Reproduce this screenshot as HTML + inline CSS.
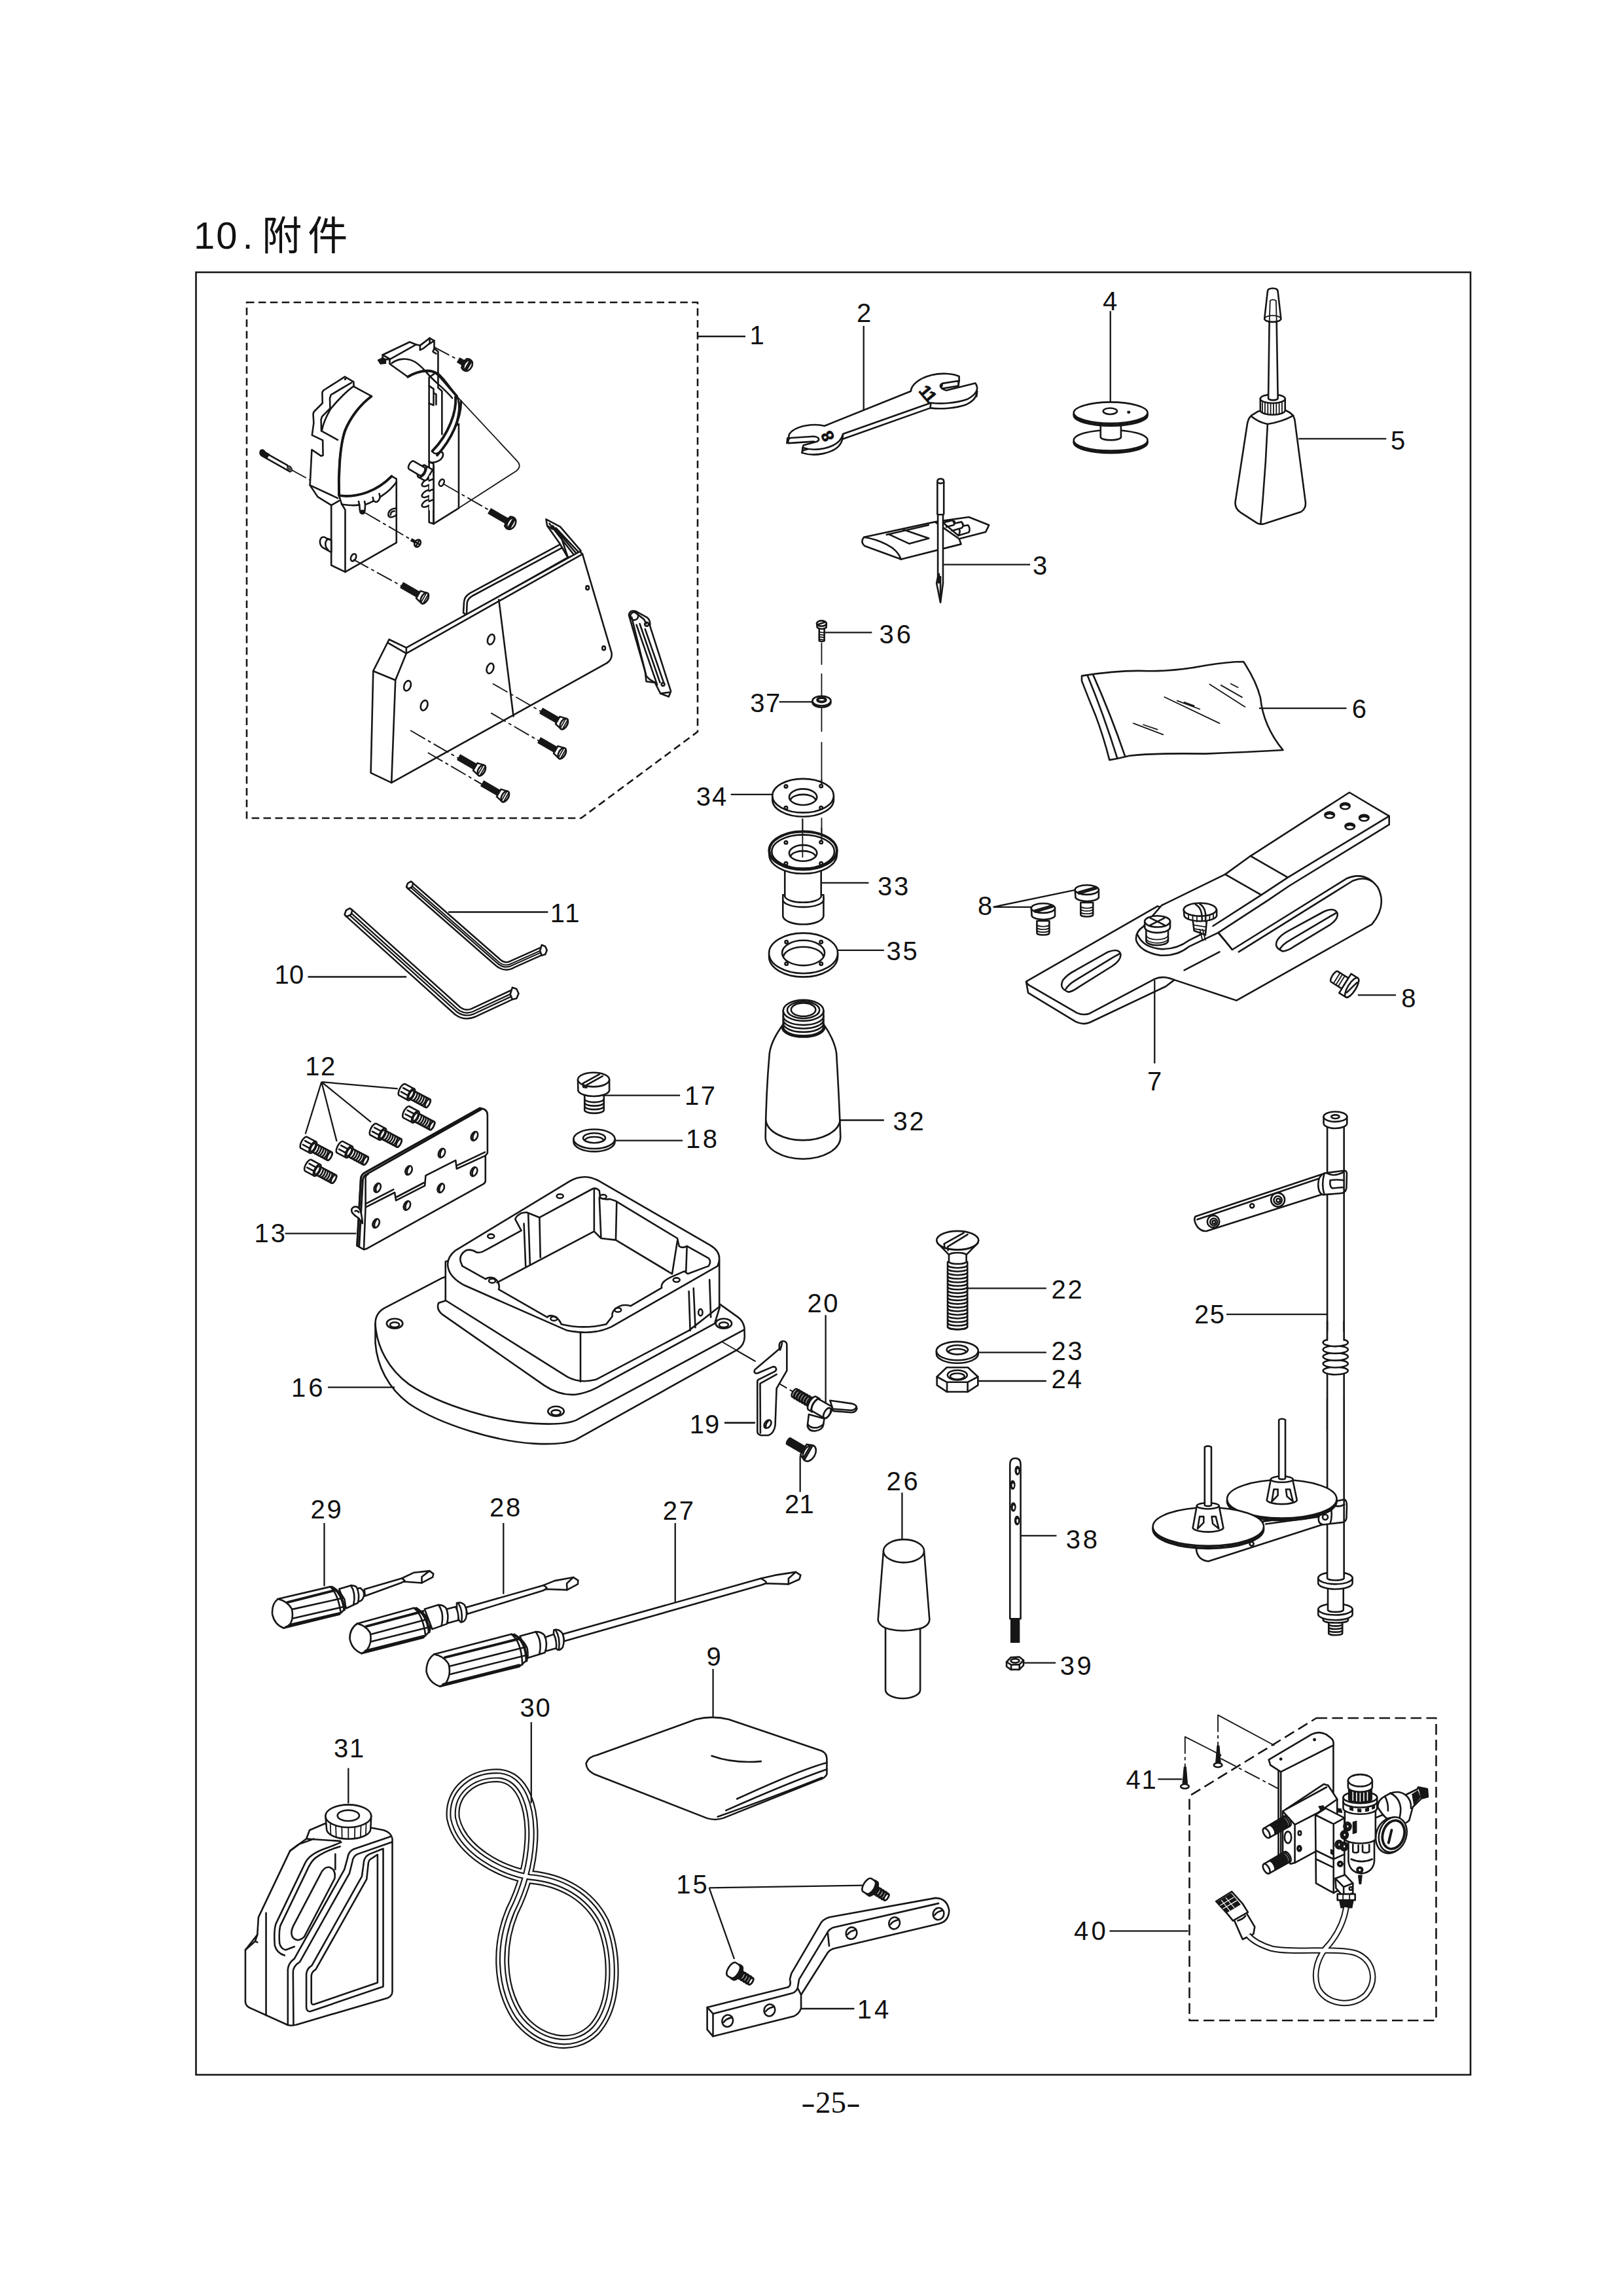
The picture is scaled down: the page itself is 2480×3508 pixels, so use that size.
<!DOCTYPE html>
<html lang="zh"><head><meta charset="utf-8"><title>10. 附件</title>
<style>
html,body{margin:0;padding:0;background:#fff}
body{width:2480px;height:3508px;overflow:hidden;position:relative;font-family:"Liberation Sans","Noto Sans CJK SC",sans-serif}
svg{position:absolute;left:0;top:0;display:block}
.k,.f,.t,.w,.d,.c,.b,.g{vector-effect:non-scaling-stroke;stroke:#161616;stroke-linejoin:round;stroke-linecap:round}
.k{fill:none;stroke-width:2.6}
.h{fill:none;stroke-width:3.9;vector-effect:non-scaling-stroke;stroke:#161616;stroke-linejoin:round;stroke-linecap:round}
.f{fill:#fff;stroke-width:2.6}
.t{fill:none;stroke-width:1.8}
.w{fill:#fff;stroke-width:1.8}
.b{fill:#161616;stroke-width:1.2}
.g{fill:#555;stroke-width:1.2}
.d{fill:none;stroke-width:2.6;stroke-dasharray:11.5 6.4;stroke-linecap:butt}
.c{fill:none;stroke-width:1.9;stroke-dasharray:26 5 5 5;stroke-linecap:butt}
.l{fill:none;stroke:#161616;stroke-width:2.3;vector-effect:non-scaling-stroke}
.n{font-family:"Liberation Sans","Noto Sans CJK SC",sans-serif;font-size:40px;fill:#111}
.title{font-family:"Liberation Sans","Noto Sans CJK SC",sans-serif;fill:#111}
.pg{font-family:"Liberation Serif","Noto Serif CJK SC",serif;font-size:47px;fill:#111}
</style></head><body>
<svg width="2480" height="3508" viewBox="0 0 2480 3508">
<!-- 00_frame.svg -->
<rect x="299.5" y="416" width="1947.5" height="2754" fill="none" stroke="#161616" stroke-width="2.6"/>
<text class="title" x="296" y="380" font-size="58" letter-spacing="2">10<tspan dx="6">.</tspan><tspan dx="11.5" dy="2" font-size="61" letter-spacing="9">附件</tspan></text>
<text class="pg" x="1224" y="3228"><tspan textLength="22" lengthAdjust="spacingAndGlyphs">-</tspan>25<tspan textLength="22" lengthAdjust="spacingAndGlyphs">-</tspan></text>
<!-- dashed box 1 -->
<path class="d" d="M377,462 H1066 V1118 L888,1250 H377 Z"/>
<path class="l" d="M1065,514 H1139"/>
<defs>
<g id="scr"><path class="b" d="M-38,-4.5 H-8 V4.5 H-38 Z"/><path class="f" d="M-9,-6.5 L2,-9 A5,9 0 0 1 2,9 L-9,6.5 Z"/><ellipse class="f" cx="2" cy="0" rx="5" ry="9"/><path class="t" d="M0.5,-8.5 L0.5,8.5 M4,-8 L4,8"/></g>
<g id="scrS"><path class="b" d="M-18,-3.5 H-5 V3.5 H-18 Z"/><ellipse class="f" cx="0" cy="0" rx="5.5" ry="8"/><path class="k" d="M-5,0 L5,0 M0,-7 L0,7"/></g>
</defs>

<!-- 01_guardL.svg -->
<g transform="translate(380 560) scale(0.197166)">
<!-- standoff pin -->
<path class="c" d="M330,800 L475,880"/>
<path class="f" d="M95,650 L300,765 A22,30 -30 0 0 335,800 L320,815 L100,690 A20,26 -30 0 1 95,650 Z"/>
<ellipse class="b" cx="112" cy="668" rx="18" ry="26" transform="rotate(-30 112 668)"/>
<path class="b" d="M100,645 L160,680 L140,712 L88,682 Z"/>
<ellipse class="g" cx="318" cy="792" rx="16" ry="25" transform="rotate(-30 318 792)"/>
<!-- body -->
<path class="f" d="M745,79 L581,184 Q570,195 570,206 L572,284 L506,350 Q500,360 500,372 L504,438 L491,532 L574,571 L576,689 L561,693 L489,645 L475,920 L535,1010 L640,1075 L640,1540 L748,1592 L1145,1365 L1145,870 L1108,850 C1000,960 850,1020 705,1000 C690,800 700,620 760,470 C800,380 870,290 953,230 L815,155 L813,118 Z"/>
<path class="k" d="M797,125 L638,219 L629,245 L631,324 L568,389 L561,411 L563,499 L690,569 M813,153 C760,190 680,270 633,332 C600,390 575,450 568,494"/>
<circle class="b" cx="748" cy="98" r="6"/>
<path class="h" d="M950,232 C870,290 790,390 745,500 C705,620 695,850 700,1000 C850,1020 1000,960 1108,850"/>
<path class="k" d="M700,1000 L720,1065 L748,1110 L748,1592"/>
<path class="k" d="M475,920 L690,1020 M640,1075 L700,1040"/>
<path class="k" d="M722,1068 C790,1078 830,1078 858,1072 L862,1118 C872,1140 892,1140 900,1118 L903,1070 C930,1062 950,1052 968,1042 L985,1050 C1000,1050 1010,1040 1018,1012 L1035,1000 C1080,970 1120,930 1145,895"/>
<path class="k" d="M1018,1012 L1012,985 M968,1042 L962,1015 M903,1070 L898,1045 M858,1072 L852,1045"/>
<ellipse class="b" cx="882" cy="1128" rx="20" ry="16"/>
<path class="k" d="M1145,1100 C1110,1095 1080,1120 1082,1150 C1085,1172 1110,1175 1145,1150"/>
<path class="k" d="M1130,1120 C1110,1120 1098,1135 1100,1150"/>
<ellipse class="k" cx="812" cy="1480" rx="19" ry="30" transform="rotate(25 812 1480)"/>
<!-- bottom pin -->
<path class="f" d="M640,1345 L600,1330 A25,35 -15 0 0 570,1400 L640,1440 Z"/>
<path class="k" d="M640,1345 A25,35 -15 0 0 615,1420"/>
<!-- centerlines and small screw -->
<path class="c" d="M905,1135 L1265,1345"/>
<g transform="translate(1300 1365) rotate(30)">
<path class="b" d="M-45,-10 L-10,-10 L-10,10 L-45,10 Z"/>
<ellipse class="f" cx="10" cy="0" rx="22" ry="30"/>
<path class="k" d="M-5,0 L25,0 M10,-28 L10,28"/>
</g>
</g>

<!-- 02_guardR.svg -->
<g transform="translate(560 490) scale(0.197166)">
<path class="t" d="M700,585 L1170,1090 Q1205,1128 1160,1165 L715,1452"/>
<!-- plate -->
<path class="f" d="M485,440 L485,1562 L520,1574 L715,1452 L715,800 L690,815 C715,730 730,650 700,585 L620,480 C590,440 560,410 540,400 Z"/>
<path class="k" d="M520,1110 L520,1574 M485,1090 L520,1110 M485,505 L520,528 L520,655 L485,640 M520,560 L540,570 L540,650 M585,545 L585,880 M555,410 L555,520 L585,545"/>
<!-- top lip -->
<path class="f" d="M125,265 L335,165 L385,185 L415,192 L415,228 L440,215 L490,175 L490,135 L525,155 L525,215 L555,240 L555,410 C520,385 470,385 440,392 C400,398 350,415 320,435 L180,335 L180,300 L125,300 Z"/>
<path class="k" d="M180,300 L385,185 M125,265 L180,296 M490,135 L415,192 M525,155 L490,178 M525,215 L515,240 L540,255"/>
<path class="k" d="M195,330 C240,295 300,290 345,305 C390,320 430,360 465,400"/>
<path class="h" d="M320,435 C370,405 420,390 470,388 C520,388 545,405 580,445 L700,585"/>
<path class="b" d="M88,305 L128,285 L150,300 L150,332 L108,336 Z"/>
<!-- curved band -->
<path class="h" d="M690,590 C700,700 640,880 510,1010"/>
<path class="h" d="M732,625 C730,760 660,920 548,1042"/>
<path class="k" d="M465,400 C520,470 600,520 665,600"/>
<path class="k" d="M510,1010 C520,1035 545,1035 575,1015 C600,1020 600,1050 575,1075 C550,1095 520,1100 490,1100"/>
<!-- pin -->
<g transform="translate(478 1195) rotate(30)">
<path class="f" d="M10,-52 L-55,-52 A26,52 0 0 0 -55,52 L10,52 Z"/>
<ellipse class="f" cx="-55" cy="0" rx="26" ry="52"/>
<path class="f" d="M-55,-36 L-150,-36 A18,36 0 0 0 -150,36 L-55,36 A18,36 0 0 0 -55,-36 Z"/>
</g>
<!-- spring coils -->
<g><ellipse class="f" cx="470" cy="1255" rx="45" ry="22" transform="rotate(-30 470 1255)"/><ellipse class="f" cx="470" cy="1340" rx="45" ry="22" transform="rotate(-30 470 1340)"/><ellipse class="f" cx="470" cy="1415" rx="45" ry="22" transform="rotate(-30 470 1415)"/></g>
<path class="f" d="M486,1200 L520,1200 L520,1470 L486,1470 Z" style="stroke:none"/>
<path class="k" d="M520,1130 L520,1574 M485,1240 L520,1225 M485,1320 L520,1305 M485,1400 L520,1385"/>
<ellipse class="k" cx="582" cy="1255" rx="18" ry="28" transform="rotate(25 582 1255)"/>
<!-- centerlines -->
<path class="c" d="M525,205 L705,300"/>
<path class="c" d="M602,1268 L950,1468"/>
<!-- screws -->
<g transform="translate(765 335) rotate(30)">
<path class="b" d="M-60,-20 L-10,-20 L-10,20 L-60,20 Z"/>
<ellipse class="f" cx="15" cy="0" rx="35" ry="48"/><path class="f" d="M-10,-40 L15,-48 L15,48 L-10,40 Z"/><ellipse class="f" cx="25" cy="0" rx="30" ry="46"/>
<path class="k" d="M20,-44 L20,44 M32,-42 L32,42"/>
</g>
<g transform="translate(1075 1545) rotate(30)">
<path class="b" d="M-140,-22 L20,-22 L20,22 L-140,22 Z"/>
<ellipse class="f" cx="45" cy="0" rx="35" ry="50"/><path class="f" d="M20,-42 L45,-50 L45,50 L20,42 Z"/><ellipse class="f" cx="55" cy="0" rx="30" ry="48"/>
<path class="k" d="M50,-46 L50,46 M62,-44 L62,44"/>
</g>
</g>

<!-- 03_plate.svg -->
<g transform="translate(540 780) scale(0.332717)">
<!-- back panel -->
<path class="f" d="M505,470 L508,420 Q510,395 535,380 L950,155 L985,215 L520,480 Z"/>
<path class="k" d="M520,475 L522,425 Q524,405 545,393 L960,170"/>
<!-- hinge top right -->
<path class="f" d="M885,40 L950,75 L1045,185 L1030,205 L985,215 L950,155 L890,70 Z"/>
<path class="k" d="M900,60 L1010,200 M915,70 L1022,195 M930,80 L1035,192 M890,70 L915,85 M945,95 L985,215"/>
<!-- top thickness + left chamfer + side -->
<path class="f" d="M164,592 L243,630 L1040,188 L1052,200 L1185,650 Q1192,680 1165,700 L175,1250 L80,1205 L91,737 Z"/>
<path class="k" d="M243,630 L243,656 L1052,200 M157,607 L243,656 L193,779 L175,1250 M91,737 L193,779"/>
<path class="k" d="M668,410 L735,945"/>
<ellipse class="k" cx="632" cy="592" rx="15" ry="24" transform="rotate(20 632 592)"/>
<ellipse class="k" cx="628" cy="725" rx="15" ry="24" transform="rotate(20 628 725)"/>
<ellipse class="k" cx="248" cy="805" rx="15" ry="24" transform="rotate(20 248 805)"/>
<ellipse class="k" cx="325" cy="895" rx="15" ry="24" transform="rotate(20 325 895)"/>
<ellipse class="k" cx="1075" cy="355" rx="7" ry="9"/>
<ellipse class="k" cx="1150" cy="632" rx="7" ry="9"/>
<path class="c" d="M640,795 L862,923 M632,930 L856,1060 M262,1010 L486,1140 M342,1112 L592,1258"/>
<path class="c" d="M0,225 L228,350"/>
<!-- lever -->
<path class="f" d="M1265,480 Q1270,455 1295,462 L1350,492 Q1365,505 1362,530 L1458,830 L1448,855 L1410,840 L1385,790 L1345,785 L1340,740 Z"/>
<path class="k" d="M1290,465 L1335,500 L1345,520 M1300,525 L1395,800 M1315,520 L1408,790 M1340,545 L1425,790 M1278,490 L1345,760 L1360,775 L1385,790 M1410,840 L1450,835"/>
<circle class="k" cx="1347" cy="522" r="9"/><circle class="k" cx="1422" cy="798" r="7"/>
<circle class="k" cx="1290" cy="485" r="18"/>
</g>
<g>
<use href="#scr" transform="translate(860 1105) rotate(30)"/>
<use href="#scr" transform="translate(857 1150) rotate(30)"/>
<use href="#scr" transform="translate(734 1176) rotate(30)"/>
<use href="#scr" transform="translate(770 1216) rotate(30)"/>
<use href="#scr" transform="translate(647 913) rotate(30)"/>
</g>

<!-- 04_wrench.svg -->
<g transform="translate(1160 440) scale(0.246457)">
<path class="l" d="M648,235 L648,775"/>
<path id="wr" class="f" d="M405,855 L940,640 C945,600 990,560 1070,540 C1130,525 1200,530 1240,548 L1240,575 L1135,592 C1115,600 1120,625 1160,635 L1340,590 C1365,620 1350,660 1290,690 C1220,715 1130,720 1065,712 L520,905 C510,950 470,980 400,995 C350,1005 300,1000 270,990 L275,975 L350,955 C380,945 375,925 340,920 L185,930 C175,900 220,865 290,853 C340,845 380,848 405,855 Z" transform="translate(-4 32)"/>
<path class="k" d="M176,930 L172,962 M270,990 L266,1022 M520,905 L516,937 M1065,712 L1061,744 M1352,640 L1348,672 M1240,575 L1236,600 M1135,592 L1133,610"/>
<path class="f" d="M405,855 L940,640 C945,600 990,560 1070,540 C1130,525 1200,530 1240,548 L1240,575 L1135,592 C1115,600 1120,625 1160,635 L1340,590 C1365,620 1350,660 1290,690 C1220,715 1130,720 1065,712 L520,905 C510,950 470,980 400,995 C350,1005 300,1000 270,990 L275,975 L350,955 C380,945 375,925 340,920 L185,930 C175,900 220,865 290,853 C340,845 380,848 405,855 Z"/>
<text transform="translate(470 930) rotate(-115)" font-size="105" font-weight="bold" stroke="#111" stroke-width="3" font-family="Liberation Sans,sans-serif" fill="#111">8</text>
<text transform="translate(985 640) rotate(50)" font-size="105" font-weight="bold" stroke="#111" stroke-width="3" font-family="Liberation Sans,sans-serif" fill="#111" letter-spacing="-6">11</text>
<!-- needle pack -->
<path class="f" d="M650,1545 L1090,1450 L1300,1420 L1425,1470 L1405,1512 L1240,1555 L1252,1588 L880,1682 L655,1600 Q625,1575 650,1545 Z"/>
<path class="k" d="M650,1545 Q720,1555 790,1590 Q860,1625 880,1682 M1240,1555 L1090,1450 M790,1530 L1050,1470 M800,1525 L930,1585 L1052,1552 L895,1498"/>
<path class="f" d="M1140,1455 L1200,1440 L1210,1460 L1255,1450 L1268,1475 L1295,1470 Q1312,1490 1300,1515 L1235,1535 Z"/>
<path class="k" d="M1160,1482 L1205,1470 Q1218,1458 1210,1445 M1195,1505 L1255,1488 Q1270,1475 1262,1460 M1235,1535 Q1250,1515 1240,1495"/>
<!-- needle -->
<path class="f" d="M1105,1200 Q1105,1183 1125,1183 Q1145,1183 1145,1200 L1145,1400 L1140,1410 L1140,1830 L1124,1950 L1100,1830 L1108,1790 L1108,1410 L1105,1400 Z"/>
<path class="k" d="M1105,1205 Q1125,1218 1145,1205 M1108,1405 L1140,1405 M1124,1790 L1124,1940"/>
<path class="b" d="M1108,1775 L1118,1770 L1118,1830 L1108,1830 Z"/>
<path class="l" d="M1145,1715 L1680,1715"/>
</g>

<!-- 05_bobbin_oiler.svg -->
<g transform="translate(1580 420) scale(0.394331)">
<path class="l" d="M296,140 L296,492 M1025,635 L1365,635"/>
<!-- bobbin -->
<ellipse class="f" cx="297" cy="650" rx="143" ry="40"/>
<ellipse class="f" cx="297" cy="641" rx="143" ry="40"/><path class="k" d="M154,646 A143,40 0 0 0 440,646"/>
<path class="f" d="M258,560 L258,630 A40,12 0 0 0 337,630 L337,560 Z"/>
<ellipse class="f" cx="297" cy="544" rx="143" ry="41"/>
<ellipse class="f" cx="297" cy="534" rx="143" ry="41"/><path class="k" d="M154,539 A143,41 0 0 0 440,539"/>
<ellipse class="k" cx="295" cy="528" rx="27" ry="12"/>
<ellipse class="b" cx="367" cy="532" rx="5" ry="4"/>
<!-- oiler -->
<path class="f" d="M870,528 L842,545 Q830,555 826,580 L780,880 Q778,905 800,920 L865,962 Q880,970 900,962 L1035,918 Q1055,905 1052,880 L1010,560 Q1005,540 985,530 L975,525 Z"/>
<path class="k" d="M842,548 Q870,572 905,578 Q960,570 1005,545 M905,578 Q897,770 878,966"/>
<path class="f" d="M877,480 L877,525 A48,17 0 0 0 973,525 L973,480 Z"/>
<path class="t" d="M885,495 L885,535 M895,497 L895,539 M906,499 L906,541 M917,500 L917,542 M928,500 L928,542 M939,499 L939,541 M950,498 L950,539 M961,495 L961,535"/>
<ellipse class="f" cx="925" cy="480" rx="48" ry="17"/>
<path class="f" d="M912,180 L908,478 A18,7 0 0 0 945,478 L940,180 Z"/>
<path class="f" d="M905,65 Q905,52 925,52 Q945,52 945,65 L957,170 A31,12 0 0 1 893,170 Z"/>
<path class="t" d="M915,100 Q926,92 938,100 M915,100 L912,180 M938,100 L940,180 M893,170 A31,12 0 0 1 957,170"/>
</g>

<!-- 06_cover_guide.svg -->
<g transform="translate(1540 980) scale(0.431300)">
<!-- 6 plastic sheet -->
<path class="f" d="M262,122 Q400,100 500,105 Q600,105 700,85 Q780,72 835,72 Q880,140 895,200 Q905,300 975,385 Q850,392 700,398 Q520,395 430,405 Q390,415 360,420 Q340,340 310,260 Q285,200 262,140 Z"/>
<path class="k" d="M282,120 Q340,260 388,415 M302,118 Q365,260 415,406"/>
<path class="t" d="M555,197 L750,290 M600,210 L680,240 M625,215 L660,228 M445,290 L550,330 M480,295 L530,312 M715,152 L840,232 M755,155 L830,198 M790,150 L815,163"/>
<path class="l" d="M890,237 L1200,237"/>
<!-- 7 lower plate -->
<path class="f" d="M65,1205 L530,938 L727,1008 L795,1092 L1200,840 Q1265,812 1310,870 Q1345,935 1290,1002 L810,1272 L590,1199 L560,1222 L290,1350 Q265,1360 240,1347 L72,1245 Z"/>
<path class="k" d="M818,1100 L1222,848 Q1262,832 1290,850"/>
<path class="k" d="M66,1207 L72,1216 L245,1316 Q268,1326 290,1318 L520,1196 Q548,1182 590,1199"/>
<path class="k" d="M625,1165 L750,1100"/>
<path class="f" d="M215,1242 Q180,1230 195,1200 Q210,1180 240,1165 L355,1100 Q395,1085 400,1110 Q400,1130 370,1150 L250,1225 Q230,1240 215,1242 Z"/>
<path class="k" d="M205,1232 Q215,1215 240,1200 L375,1118 Q390,1110 398,1105"/>
<path class="f" d="M975,1098 Q940,1085 955,1058 Q965,1040 1000,1022 L1120,957 Q1160,940 1168,965 Q1170,985 1140,1005 L1015,1080 Q995,1095 975,1098 Z"/>
<path class="k" d="M965,1088 Q975,1072 1000,1058 L1140,975 Q1155,967 1166,960"/>
<!-- upper bar -->
<path class="f" d="M1210,535 L1351,619 L1351,649 L997,866 L923,916 L745,1032 L640,1082 Q600,1115 540,1112 Q470,1100 455,1060 Q450,1030 480,1010 L545,935 L770,825 L860,760 Z"/>
<path class="k" d="M1351,619 L992,836 L898,898 L727,1008 M860,760 L992,836 M770,825 L898,898 M745,1032 Q770,1060 795,1092"/>
<path class="k" d="M460,1040 Q480,1085 545,1090 Q600,1090 640,1060 L700,1030"/>
<g id="h7"><ellipse class="f" cx="1195" cy="583" rx="17" ry="11"/><path class="h" d="M1181,581 Q1195,572 1209,581"/></g>
<use href="#h7" transform="translate(-55 32)"/><use href="#h7" transform="translate(67 42)"/><use href="#h7" transform="translate(17 72)"/>
<!-- cross screw -->
<path class="f" d="M490,1010 L490,1060 A38,16 0 0 0 568,1060 L568,1010 Z"/>
<path class="t" d="M490,1040 A38,16 0 0 0 568,1040 M490,1052 A38,16 0 0 0 568,1052"/>
<path class="f" d="M485,990 L485,1012 A45,20 0 0 0 575,1012 L575,990 Z"/>
<ellipse class="f" cx="530" cy="992" rx="45" ry="20"/>
<path class="k" d="M505,980 L555,1005 M555,980 L505,1005"/>
<!-- thumb screw -->
<path class="f" d="M655,985 L660,1025 L700,1040 L705,985 Z"/>
<path class="t" d="M660,1005 L703,1012 M662,1018 L702,1025 M680,1020 L690,1060 M690,1020 L700,1058"/>
<path class="f" d="M623,950 L625,972 A58,22 0 0 0 740,972 L740,950 Z"/>
<path class="t" d="M640,962 L640,985 M655,968 L655,990 M670,970 L670,993 M700,970 L700,993 M715,966 L715,989 M728,960 L728,982"/>
<ellipse class="f" cx="681" cy="950" rx="58" ry="23"/>
<path class="k" d="M665,932 Q690,945 688,990 M680,930 Q705,945 700,990"/>
<!-- screws 8 left -->
<g id="s8"><path class="f" d="M258,925 L258,968 A22,7 0 0 0 302,968 L302,925 Z"/><path class="t" d="M258,938 A22,7 0 0 0 302,938 M258,948 A22,7 0 0 0 302,948 M258,958 A22,7 0 0 0 302,958"/>
<path class="f" d="M238,880 L240,908 A42,16 0 0 0 322,908 L322,880 Z"/><ellipse class="f" cx="280" cy="880" rx="42" ry="17"/><path class="k" d="M250,888 L312,870 M252,894 L314,876"/></g>
<use href="#s8" transform="translate(-155 65)"/>
<!-- screw 8 right -->
<g transform="translate(1212 1222) rotate(-58)"><path class="f" d="M-22,-65 L-22,-20 L22,-20 L22,-65 A22,8 0 0 0 -22,-65 Z"/><path class="t" d="M-22,-55 L22,-55 M-22,-45 L22,-45 M-22,-35 L22,-35"/>
<path class="f" d="M-40,-20 L-40,8 A40,14 0 0 0 40,8 L40,-20 Z"/><ellipse class="f" cx="0" cy="8" rx="40" ry="14"/><path class="k" d="M-25,2 L25,14"/></g>
<path class="l" d="M-52,941 L240,880 M-52,941 L82,941 M520,1200 L520,1495 M1240,1253 L1375,1253"/>
</g>

<!-- 07_midcol.svg -->
<g transform="translate(1060 920) scale(0.246457)">
<path class="l" d="M815,188 L1105,188 M530,618 L738,618 M230,1192 L520,1192 M790,1740 L1085,1740"/>
<path class="t" d="M793,255 L793,385 M793,445 L793,590 M793,660 L793,800 M793,870 L793,1130 M793,1340 L793,1480 M675,1345 L675,1580"/>
<!-- 36 screw -->
<path class="f" d="M778,160 L778,240 Q793,248 810,240 L810,160 Z"/>
<path class="t" d="M778,185 L810,190 M778,200 L810,205 M778,215 L810,220 M778,230 L810,235"/>
<path class="f" d="M763,132 L766,158 Q793,175 822,158 L823,132 Z"/>
<ellipse class="f" cx="793" cy="132" rx="30" ry="17"/>
<path class="k" d="M772,138 L815,124"/>
<!-- 37 washer -->
<ellipse class="f" cx="793" cy="622" rx="57" ry="30"/>
<ellipse class="f" cx="793" cy="612" rx="57" ry="30"/>
<ellipse class="h" cx="793" cy="606" rx="26" ry="13"/>
<!-- 34 flange -->
<path class="f" d="M488,1200 L488,1225 A190,105 0 0 0 868,1225 L868,1200 Z"/>
<ellipse class="f" cx="678" cy="1200" rx="190" ry="105"/>
<ellipse class="k" cx="678" cy="1208" rx="86" ry="50"/>
<path class="k" d="M600,1225 A80,42 0 0 1 756,1225"/>
<circle class="k" cx="572" cy="1142" r="9"/><circle class="k" cx="790" cy="1140" r="9"/><circle class="k" cx="572" cy="1275" r="9"/><circle class="k" cx="790" cy="1275" r="9"/>
<path class="t" d="M793,1100 L793,1130"/>
<!-- 33 -->
<path class="f" d="M553,1830 L553,1945 A125,52 0 0 0 805,1945 L805,1830 Z"/>
<path class="f" d="M553,1815 L553,1845 A125,45 0 0 0 805,1845 L805,1815 Z"/>
<path class="f" d="M565,1620 L565,1825 A113,40 0 0 0 790,1825 L790,1620 Z"/>
<path class="f" d="M468,1540 L468,1565 A210,118 0 0 0 888,1565 L888,1540 Z"/>
<ellipse class="h" style="fill:#fff" cx="678" cy="1540" rx="210" ry="118"/>
<ellipse class="k" cx="678" cy="1546" rx="194" ry="104"/>
<ellipse class="k" cx="678" cy="1556" rx="86" ry="50"/>
<path class="k" d="M600,1575 A80,42 0 0 1 756,1575"/>
<circle class="k" cx="572" cy="1490" r="9"/><circle class="k" cx="790" cy="1488" r="9"/><circle class="k" cx="572" cy="1620" r="9"/><circle class="k" cx="790" cy="1620" r="9"/>
<path class="t" d="M793,1400 L793,1480 M675,1345 L675,1580"/>
</g>
<g transform="translate(1060 1380) scale(0.246457)">
<path class="l" d="M895,292 L1180,292 M885,1345 L1180,1345"/>
<!-- 35 ring -->
<path class="f" d="M467,310 L467,332 A213,125 0 0 0 893,332 L893,310 Z"/>
<ellipse class="f" cx="680" cy="310" rx="213" ry="125"/>
<ellipse class="k" cx="680" cy="308" rx="132" ry="78"/>
<path class="k" d="M556,330 A125,68 0 0 1 804,330"/>
<circle class="k" cx="575" cy="240" r="9"/><circle class="k" cx="790" cy="240" r="9"/><circle class="k" cx="575" cy="375" r="9"/><circle class="k" cx="790" cy="375" r="9"/>
<!-- 32 bottle -->
<path class="f" d="M555,750 C520,800 480,860 470,930 C455,1100 447,1300 445,1450 A232,135 0 0 0 910,1450 C905,1300 895,1100 885,930 C875,860 840,800 805,750 Z"/>
<path class="k" d="M447,1345 A231,133 0 0 0 908,1345"/>
<path class="f" d="M555,665 L555,770 A125,55 0 0 0 805,770 L805,665 Z"/>
<path class="k" d="M555,700 A125,55 0 0 0 805,700 M555,722 A125,55 0 0 0 805,722 M555,744 A125,55 0 0 0 805,744 M555,766 A125,55 0 0 0 805,766 M548,770 A132,60 0 0 0 812,770"/>
<ellipse class="f" cx="680" cy="665" rx="125" ry="65"/>
<ellipse class="k" cx="680" cy="662" rx="100" ry="52"/>
<ellipse class="k" cx="680" cy="660" rx="76" ry="41"/>
</g>

<!-- 08_hexkeys.svg -->
<g transform="translate(400 1290) scale(0.320394)">
<path class="l" d="M890,323 L1365,323 M220,632 L690,632"/>
<g fill="none" stroke-linejoin="round">
<path d="M410,322 L935,795 Q970,820 1010,803 L1205,712" stroke="#161616" stroke-width="16" vector-effect="non-scaling-stroke"/>
<path d="M410,322 L935,795 Q970,820 1010,803 L1205,712" stroke="#fff" stroke-width="11" vector-effect="non-scaling-stroke"/>
<path d="M410,322 L935,795 Q970,820 1010,803 L1205,712" stroke="#161616" stroke-width="6.2" vector-effect="non-scaling-stroke"/>
<path d="M410,322 L935,795 Q970,820 1010,803 L1205,712" stroke="#fff" stroke-width="1.6" vector-effect="non-scaling-stroke"/>
<path d="M702,192 L1128,565 Q1160,592 1195,572 L1345,505" stroke="#161616" stroke-width="13.8" vector-effect="non-scaling-stroke"/>
<path d="M702,192 L1128,565 Q1160,592 1195,572 L1345,505" stroke="#fff" stroke-width="8.9" vector-effect="non-scaling-stroke"/>
<path d="M702,192 L1128,565 Q1160,592 1195,572 L1345,505" stroke="#161616" stroke-width="5" vector-effect="non-scaling-stroke"/>
<path d="M702,192 L1128,565 Q1160,592 1195,572 L1345,505" stroke="#fff" stroke-width="1.0" vector-effect="non-scaling-stroke"/>
</g>
<path class="f" d="M1195,683 L1215,690 L1225,712 L1215,735 L1195,740 L1185,715 Z"/>
<path class="f" d="M1335,480 L1352,487 L1360,505 L1352,525 L1335,530 L1327,508 Z"/>
<path class="f" d="M395,335 L402,315 L420,305 L432,315 L425,335 L405,345 Z"/>
<path class="f" d="M690,203 L696,186 L712,177 L722,186 L716,203 L700,212 Z"/>
</g>

<!-- 09_hinge.svg -->
<g transform="translate(380 1600) scale(0.258780)">
<path class="l" d="M430,205 L880,245 M430,205 L722,442 M430,205 L520,556 M430,205 L335,512 M215,1100 L635,1100"/>
<defs><g id="cap">
<path class="f" d="M20,-27 L130,-27 A11,27 0 0 1 130,27 L20,27 Z"/>
<path class="k" d="M42,-27 A11,27 0 0 1 42,27 M57,-27 A11,27 0 0 1 57,27 M72,-27 A11,27 0 0 1 72,27 M87,-27 A11,27 0 0 1 87,27 M102,-27 A11,27 0 0 1 102,27 M117,-27 A11,27 0 0 1 117,27"/>
<ellipse class="f" cx="130" cy="0" rx="11" ry="27"/>
<path class="f" d="M-40,-38 L20,-38 A16,38 0 0 1 20,38 L-40,38 A16,38 0 0 1 -40,-38 Z"/>
<path class="k" d="M20,-38 A16,38 0 0 0 20,38 M-40,-12 L8,-12 M-40,14 L8,14"/>
<path class="f" d="M20,-27 A11,27 0 0 1 20,27 A11,27 0 0 1 20,-27 Z"/>
</g></defs>
<use href="#cap" transform="translate(942 270) rotate(28)"/>
<use href="#cap" transform="translate(967 402) rotate(28)"/>
<use href="#cap" transform="translate(772 504) rotate(28)"/>
<use href="#cap" transform="translate(362 582) rotate(28)"/>
<use href="#cap" transform="translate(575 609) rotate(28)"/>
<use href="#cap" transform="translate(387 717) rotate(28)"/>
<!-- hinge -->
<path class="f" d="M662,775 Q665,750 690,738 L1365,360 Q1410,365 1410,400 L1410,625 L1398,640 L1398,790 Q1398,800 1385,808 L700,1188 L680,1195 L640,1172 Z"/>
<path class="k" style="stroke-width:3" d="M640,1172 L662,775 Q665,750 690,738 L1365,360 M652,1178 L674,782 Q677,758 700,748 L1375,366"/>
<path class="k" d="M690,945 L690,770 Q692,755 705,750 M680,1190 L690,945 L862,858 L870,905 L1040,818 L1045,758 L1222,668 L1228,718 L1398,640"/>
<path class="k" d="M690,925 L855,840 M872,885 L1035,800 M1230,698 L1395,620"/>
<g id="hh"><ellipse class="k" cx="760" cy="830" rx="18" ry="28" transform="rotate(25 760 830)"/><path class="k" d="M752,850 Q745,832 762,808"/></g>
<use href="#hh" transform="translate(185 -103)"/><use href="#hh" transform="translate(380 -205)"/><use href="#hh" transform="translate(573 -305)"/>
<use href="#hh" transform="translate(175 105)"/><use href="#hh" transform="translate(375 2)"/><use href="#hh" transform="translate(570 -95)"/><use href="#hh" transform="translate(-8 210)"/>

<path class="f" d="M650,1010 Q625,995 612,978 Q600,958 618,945 Q640,935 655,955 Q668,980 672,1040 Z"/>
<path class="k" d="M628,968 Q640,960 650,975"/>
</g>

<!-- 10_base.svg -->
<g transform="translate(540 1760) scale(0.394331)">
<path class="t" d="M1430,738 L1555,810"/>
<!-- base plate -->
<path class="f" d="M345,488 L120,605 Q85,625 85,665 L85,740 C92,830 135,915 215,975 C340,1060 560,1122 700,1130 C780,1134 830,1130 862,1115 L1488,766 Q1516,748 1516,715 L1515,680 Q1510,655 1490,640 L1420,590 L900,300 Z"/>
<path class="k" d="M85,665 C90,760 140,845 215,900 C340,985 560,1045 700,1052 C780,1057 830,1053 862,1040 L1512,690"/>
<g id="bh"><ellipse class="k" cx="160" cy="665" rx="31" ry="19"/><ellipse class="k" cx="160" cy="670" rx="18" ry="10"/></g>
<use href="#bh" transform="translate(1275 0)"/><use href="#bh" transform="translate(625 340)"/>
<!-- fillet -->
<path class="f" d="M330,585 Q320,610 345,630 L740,905 Q800,945 860,940 Q900,935 940,915 L1400,665 L1420,600 L900,400 Z"/>
<!-- box walls -->
<path class="f" d="M357,425 L357,575 L830,872 Q880,898 940,882 L1300,692 L1418,600 L1418,420 L900,300 Z"/>
<path class="k" d="M880,700 L880,890 M1300,540 L1305,692 M1318,528 L1325,680 M1380,495 L1385,640"/>
<ellipse class="k" cx="1345" cy="622" rx="8" ry="13"/>
</g>
<g transform="translate(680 1790) scale(0.264941)">
<!-- box top face -->
<path class="f" d="M18,555 Q5,500 60,455 L720,55 Q800,10 880,50 L1530,425 Q1605,470 1572,545 L960,895 Q850,948 700,915 L110,655 Q30,612 18,555 Z"/>
<!-- inner opening -->
<path class="f" d="M90,520 Q80,480 120,455 Q150,445 180,465 Q205,472 230,455 L440,340 L405,275 Q410,255 440,240 L470,235 L545,265 L850,100 Q870,90 890,110 L895,150 Q920,165 950,158 L985,170 L1340,385 L1350,430 Q1370,445 1395,430 L1520,500 Q1538,520 1520,545 L1400,590 L1380,575 L1300,610 Q1240,640 1250,670 L1070,775 Q1020,760 985,790 Q960,810 965,835 L930,880 Q800,912 670,880 Q660,850 630,835 Q600,825 590,840 L310,680 Q320,640 285,615 Q250,605 235,620 L100,545 Z"/>
<path class="k" d="M455,300 L465,545 M480,240 L490,535 M545,265 L550,495 M300,640 L860,345 L900,385 L985,395 L1310,590 M860,100 L860,345 M890,150 L900,385 M990,175 L985,395 M1340,400 L1310,590 M1395,435 L1390,575"/>
<g id="bx"><ellipse class="k" cx="663" cy="142" rx="19" ry="12"/></g>
<use href="#bx" transform="translate(-398 231)"/><use href="#bx" transform="translate(249 3)"/><use href="#bx" transform="translate(-391 488)"/><use href="#bx" transform="translate(-35 706)"/><use href="#bx" transform="translate(334 656)"/><use href="#bx" transform="translate(672 483)"/>
</g>
<g transform="translate(540 1760) scale(0.394331)">
<path class="l" d="M-99,912 L160,912 M1438,1050 L1555,1050"/>
</g>

<!-- 11_s17.svg -->
<g transform="translate(840 1620) scale(0.197166)">
<!-- 17 -->
<path class="f" d="M270,270 L270,385 A75,25 0 0 0 420,385 L420,270 Z"/>
<path class="k" d="M270,300 A75,25 0 0 0 420,300 M270,328 A75,25 0 0 0 420,328 M270,356 A75,25 0 0 0 420,356"/>
<path class="f" d="M218,150 L220,235 A122,50 0 0 0 462,235 L462,150 Z"/>
<ellipse class="f" cx="340" cy="150" rx="122" ry="55"/>
<path class="k" d="M258,178 L385,108 M285,192 L410,122 M258,178 L260,208 L285,212 L285,192"/>
<!-- 18 -->
<path class="f" d="M185,610 L185,632 A160,75 0 0 0 505,632 L505,610 Z"/>
<ellipse class="f" cx="345" cy="610" rx="160" ry="75"/>
<ellipse class="k" cx="345" cy="602" rx="86" ry="38"/>
<path class="k" d="M275,615 A72,28 0 0 1 415,615"/>
<path class="l" d="M420,272 L1010,272 M505,622 L1030,622"/>
</g>

<!-- 12_p19.svg -->
<g transform="translate(1040 1960) scale(0.209489)">
<path class="t" d="M305,432 L545,572"/>
<path class="c" d="M668,705 L830,800"/>
<!-- 19 -->
<path class="f" d="M745,425 Q775,425 775,455 L775,640 Q740,700 700,770 L690,1040 Q680,1100 640,1112 L585,1112 Q560,1105 560,1085 L560,720 Q560,708 575,702 L690,645 Q705,630 690,615 Q680,608 665,615 L560,660 Q535,662 538,640 Q540,630 555,622 L720,482 L720,450 Q725,428 745,425 Z"/>
<path class="k" d="M582,1095 L580,735 L700,668 M740,438 Q735,470 725,490"/>
<ellipse class="k" cx="635" cy="1030" rx="22" ry="33" transform="rotate(35 635 1030)"/>
<path class="k" d="M622,1050 Q618,1030 640,1005"/>
<!-- 20 wing screw -->
<path class="f" d="M935,960 L925,1045 Q935,1085 985,1080 Q1035,1070 1040,1040 L1048,990 Z"/>
<path class="k" d="M930,1035 Q950,1065 1000,1055 Q1030,1045 1042,1030"/>
<path class="f" d="M1090,858 L1245,880 Q1290,890 1285,920 Q1275,948 1240,945 L1115,935 Z"/>
<path class="k" d="M1120,920 L1240,930 Q1270,930 1283,905"/>
<g transform="translate(960 878) rotate(30)">
<path class="f" d="M-150,-33 L0,-33 L0,33 L-150,33 A14,33 0 0 1 -150,-33 Z"/>
<path class="h" d="M-130,-33 A14,33 0 0 0 -130,33 M-108,-33 A14,33 0 0 0 -108,33 M-86,-33 A14,33 0 0 0 -86,33 M-64,-33 A14,33 0 0 0 -64,33 M-42,-33 A14,33 0 0 0 -42,33 M-20,-33 A14,33 0 0 0 -20,33"/>
<path class="f" d="M0,-55 L30,-55 L30,55 L0,55 A22,55 0 0 1 0,-55 Z"/>
<path class="f" d="M30,-50 L130,-50 A22,50 0 0 1 130,50 L30,50 A22,50 0 0 1 30,-50 Z"/>
<path class="k" d="M30,-55 A22,55 0 0 0 30,55"/>
<ellipse class="f" cx="130" cy="8" rx="20" ry="42"/>
</g>
<!-- 21 -->
<g transform="translate(935 1240) rotate(30)">
<path class="b" d="M-170,-28 L-40,-28 L-40,28 L-170,28 A12,28 0 0 1 -170,-28 Z"/>
<path class="f" d="M-45,-45 L0,-62 L0,62 L-45,45 Z"/>
<ellipse class="f" cx="5" cy="0" rx="42" ry="63"/>
<path class="k" d="M-15,-55 L-15,55 M-2,-60 L-2,60"/>
</g>
<path class="l" d="M1058,235 L1058,880 M320,1020 L545,1020 M872,1265 L872,1525"/>
</g>

<!-- 13_bolt22.svg -->
<g transform="translate(1380 1860) scale(0.197166)">
<!-- 22 -->
<path class="f" d="M345,345 L345,850 A77,22 0 0 0 498,850 L498,345 Z"/>
<path class="k" d="M345,372 A77,22 0 0 0 498,372 M345,400 A77,22 0 0 0 498,400 M345,428 A77,22 0 0 0 498,428 M345,456 A77,22 0 0 0 498,456 M345,484 A77,22 0 0 0 498,484 M345,512 A77,22 0 0 0 498,512 M345,540 A77,22 0 0 0 498,540 M345,568 A77,22 0 0 0 498,568 M345,596 A77,22 0 0 0 498,596 M345,624 A77,22 0 0 0 498,624 M345,652 A77,22 0 0 0 498,652 M345,680 A77,22 0 0 0 498,680 M345,708 A77,22 0 0 0 498,708 M345,736 A77,22 0 0 0 498,736 M345,764 A77,22 0 0 0 498,764 M345,792 A77,22 0 0 0 498,792 M345,820 A77,22 0 0 0 498,820 M345,848 A77,22 0 0 0 498,848"/>
<path class="f" d="M260,178 L268,200 L355,290 L355,345 A68,18 0 0 0 490,345 L490,290 L578,200 L584,178 Z"/>
<path class="k" d="M355,290 A68,18 0 0 1 490,290 M268,200 A162,72 0 0 0 578,200"/>
<ellipse class="f" cx="422" cy="178" rx="162" ry="72"/>
<path class="k" d="M318,205 L470,120 M345,228 L500,132 M318,205 L322,240 M345,228 L348,255"/>
<!-- 23 -->
<path class="f" d="M258,1035 L258,1058 A162,72 0 0 0 582,1058 L582,1035 Z"/>
<ellipse class="f" cx="420" cy="1035" rx="162" ry="72"/>
<ellipse class="k" cx="420" cy="1026" rx="82" ry="36"/>
<path class="k" d="M352,1040 A70,27 0 0 1 488,1040"/>
<!-- 24 -->
<path class="f" d="M262,1235 L338,1163 L502,1163 L580,1235 L580,1300 L500,1352 L340,1352 L262,1300 Z"/>
<path class="k" d="M262,1235 L340,1277 L500,1277 L580,1235 M340,1277 L340,1352 M500,1277 L500,1352"/>
<ellipse class="k" cx="420" cy="1222" rx="76" ry="38"/>
<ellipse class="k" cx="420" cy="1232" rx="55" ry="24"/>
<path class="l" d="M500,550 L1110,550 M582,1047 L1110,1047 M582,1268 L1110,1268"/>
</g>

<!-- 14_stand25.svg -->
<g transform="translate(1700 1680) scale(0.308071)">
<!-- pole upper -->
<path class="f" style="stroke:none" d="M1065,125 L1065,1640 L1148,1640 L1148,125 Z"/><path class="k" d="M1065,125 L1065,1640 M1148,125 L1148,1640"/>
<path class="f" d="M1047,85 L1047,118 A58,25 0 0 0 1163,118 L1163,85 Z"/>
<ellipse class="f" cx="1105" cy="85" rx="58" ry="25"/>
<ellipse class="k" cx="1105" cy="85" rx="20" ry="9"/>
<!-- arm -->
<path class="f" d="M1040,370 L410,580 Q400,600 420,630 Q440,655 468,652 L1040,470 Z"/>
<path class="k" d="M1035,388 L420,595"/>
<circle class="f" cx="820" cy="497" r="34"/><circle class="k" cx="820" cy="499" r="20"/><circle class="k" cx="822" cy="500" r="9"/>
<circle class="f" cx="500" cy="605" r="30"/><circle class="k" cx="502" cy="607" r="18"/><circle class="k" cx="503" cy="608" r="8"/>
<circle class="k" cx="692" cy="527" r="10"/>
<!-- clamp -->
<path class="f" d="M1020,420 Q1020,380 1050,365 L1150,352 Q1162,352 1162,370 L1160,440 Q1155,465 1130,465 L1045,472 Q1020,465 1020,420 Z"/>
<path class="k" d="M1062,365 Q1100,385 1145,360 M1080,400 Q1110,395 1145,400 M1080,400 Q1075,430 1090,440 L1145,435 M1050,368 Q1035,420 1050,470 M1148,355 L1148,460"/>
<!-- spring -->
<ellipse class="f" cx="1106" cy="1345" rx="62" ry="19"/><ellipse class="f" cx="1106" cy="1310" rx="62" ry="19"/><ellipse class="f" cx="1106" cy="1275" rx="62" ry="19"/><ellipse class="f" cx="1106" cy="1240" rx="62" ry="19"/><ellipse class="f" cx="1106" cy="1205" rx="62" ry="19"/>
<path class="f" d="M1065,1150 L1065,1195 A40,10 0 0 0 1148,1195 L1148,1150 Z" style="stroke:none"/>
<path class="k" d="M1065,1100 L1065,1193 M1148,1100 L1148,1193"/>
<path class="l" d="M565,1065 L1065,1065"/>
</g>
<g transform="translate(1700 2140) scale(0.308071)">
<!-- lower pole fittings -->
<path class="f" d="M1072,1090 L1072,1155 A34,8 0 0 0 1140,1155 L1140,1090 Z"/>
<path class="k" d="M1072,1110 A34,8 0 0 0 1140,1110 M1072,1125 A34,8 0 0 0 1140,1125 M1072,1140 A34,8 0 0 0 1140,1140"/>
<path class="f" d="M1042,1060 L1045,1090 A62,14 0 0 0 1168,1090 L1170,1060 Z"/>
<path class="f" d="M1020,1035 L1020,1060 A85,28 0 0 0 1190,1060 L1190,1035 Z"/>
<ellipse class="f" cx="1105" cy="1035" rx="85" ry="28"/>
<path class="f" d="M1068,900 L1068,1038 A38,10 0 0 0 1145,1038 L1145,900 Z"/>
<path class="f" d="M1020,880 L1020,905 A85,30 0 0 0 1190,905 L1190,880 Z"/>
<ellipse class="f" cx="1105" cy="880" rx="85" ry="30"/>
<path class="f" style="stroke:none" d="M1065,-10 L1065,880 A41,11 0 0 0 1148,880 L1148,-10 Z"/><path class="k" d="M1065,-10 L1065,880 A41,11 0 0 0 1148,880 L1148,-10"/>
<!-- arm -->
<path class="f" d="M1035,560 L740,600 L415,735 Q420,790 475,797 L1040,615 Z"/>
<path class="k" d="M760,612 L1030,575"/>
<!-- clamp -->
<path class="f" d="M1085,520 Q1085,500 1110,498 L1150,490 Q1162,495 1162,520 L1160,585 Q1155,605 1130,605 L1045,615 Q1020,610 1022,585 Q1022,560 1050,550 L1085,545 Z"/>
<path class="k" d="M1085,545 Q1090,575 1080,608 M1100,520 Q1125,530 1150,515 M1148,495 L1148,600"/>
<circle class="k" cx="1055" cy="578" r="13"/>
<!-- right disc -->
<ellipse class="f" cx="840" cy="500" rx="272" ry="95"/>
<ellipse class="f" cx="840" cy="488" rx="272" ry="95"/><path class="k" d="M568,494 A272,95 0 0 0 1112,494"/>
<path class="f" d="M785,390 L765,495 A78,25 0 0 0 915,495 L893,390 Z"/>
<path class="k" d="M800,440 L790,500 L820,470 L820,440 Z M860,440 L865,475 L895,500 L880,440 Z"/>
<ellipse class="f" cx="840" cy="390" rx="55" ry="15"/>
<path class="f" d="M825,95 Q841,85 857,95 L857,385 A16,5 0 0 1 825,385 Z"/>
<!-- left disc -->
<ellipse class="f" cx="475" cy="639" rx="275" ry="95"/>
<ellipse class="f" cx="475" cy="625" rx="275" ry="95"/><path class="k" d="M200,632 A275,95 0 0 0 750,632"/>
<path class="f" d="M418,522 L398,632 A78,25 0 0 0 550,632 L528,522 Z"/>
<path class="k" d="M432,575 L422,635 L452,605 L452,575 Z M492,575 L497,610 L527,635 L512,575 Z"/>
<ellipse class="f" cx="473" cy="522" rx="55" ry="15"/>
<path class="f" d="M457,230 Q473,220 490,230 L490,518 A16,5 0 0 1 457,518 Z"/>
<circle class="k" cx="690" cy="710" r="10"/>
</g>

<!-- 15_drivers.svg -->
<g transform="translate(380 2300) scale(0.542206)">
<path class="l" d="M213,50 L213,228 M718,50 L718,250 M1202,50 L1202,272"/>
</g>
<!-- 29 -->
<g transform="translate(400 2380) scale(0.197166)">
<path class="f" d="M795,245 L1085,160 L1180,115 L1300,102 L1330,125 L1325,150 L1240,195 L1100,185 L1075,197 L800,297 Z"/>
<path class="k" d="M1300,102 L1240,148 L1240,195 M1085,160 Q1120,178 1100,185"/>
<path class="f" d="M740,240 L762,234 Q795,255 792,290 Q785,325 765,335 L745,342 Z"/>
<path class="f" d="M600,242 L690,215 Q720,215 735,228 Q762,285 745,350 L655,392 Z"/>
<path class="k" d="M690,215 Q730,270 712,362"/>
<path class="f" d="M125,320 L530,225 Q600,245 640,320 Q655,380 640,402 L600,440 L170,545 Q100,520 82,440 Q75,360 125,320 Z"/>
<path class="k" d="M125,320 Q195,335 232,395 Q250,470 215,522 L170,545 M235,400 L632,312 M240,470 L645,378"/>
<path class="h" d="M200,345 L575,250 M215,522 L600,432 M545,228 Q620,270 640,402"/>
<path class="k" d="M530,225 Q590,275 612,425"/>
</g>
<!-- 28 -->
<g transform="translate(520 2380) scale(0.234134)">
<path class="f" d="M820,325 L1325,180 L1400,150 L1520,128 L1552,148 L1550,172 L1480,210 L1340,205 L1322,215 L828,367 Z"/>
<path class="k" d="M1520,128 L1478,168 L1480,210 M1325,180 Q1360,198 1340,205"/>
<path class="f" d="M760,296 Q790,285 812,310 Q832,350 820,395 Q805,425 785,420 Q760,400 760,296 Z"/>
<path class="k" d="M770,298 Q800,340 792,418"/>
<path class="f" d="M695,335 L752,320 Q775,360 770,408 L700,427 Z"/>
<path class="f" d="M550,335 L640,308 Q672,308 690,328 Q712,380 695,432 L600,466 Z"/>
<path class="k" d="M640,308 Q680,360 660,445"/>
<path class="f" d="M110,430 L480,328 Q550,350 582,420 Q595,470 578,485 L542,522 L140,625 Q75,600 62,530 Q60,465 110,430 Z"/>
<path class="k" d="M110,430 Q165,440 195,490 Q210,555 172,605 L140,625 M200,500 L572,400 M200,548 L585,452"/>
<path class="h" d="M170,448 L540,350 M165,608 L545,512 M495,330 Q565,370 580,485"/>
<path class="k" d="M480,328 Q540,375 556,508"/>
</g>
<!-- 27 -->
<g transform="translate(630 2400) scale(0.369686)">
<path class="f" d="M622,262 L1440,32 L1500,18 L1585,5 L1605,18 L1600,35 L1555,55 L1460,52 L1445,58 L628,291 Z"/>
<path class="k" d="M1585,5 L1555,32 L1555,55 M1440,32 Q1470,45 1460,52"/>
<path class="f" d="M585,245 Q605,238 620,258 Q632,285 622,315 Q612,330 600,326 Q580,310 585,245 Z"/>
<path class="k" d="M593,246 Q612,275 606,325"/>
<path class="f" d="M548,275 L585,262 Q598,290 595,320 L552,332 Z"/>
<path class="f" d="M445,270 L510,252 Q535,252 546,266 Q562,300 548,338 L478,360 Z"/>
<path class="k" d="M510,252 Q538,290 525,345"/>
<path class="f" d="M90,345 L410,262 Q455,275 475,320 Q482,360 470,372 L442,396 L115,478 Q68,462 58,415 Q58,368 90,345 Z"/>
<path class="k" d="M90,345 Q130,352 150,385 Q162,430 138,465 L115,478 M152,395 L468,315 M155,428 L474,348"/>
<path class="h" d="M135,358 L445,280 M128,470 L442,390 M422,264 Q470,292 472,372"/>
<path class="k" d="M410,262 Q452,295 455,388"/>
</g>

<!-- 16_p26.svg -->
<g transform="translate(1300 2230) scale(0.258780)">
<!-- 26 -->
<path class="f" d="M205,980 L205,1360 A102,50 0 0 0 410,1360 L410,980 Z"/>
<path class="f" d="M193,540 L161,945 Q165,985 230,1002 Q313,1020 400,1000 Q462,985 465,945 L433,540 Z"/>
<ellipse class="f" cx="313" cy="540" rx="120" ry="68"/>
<!-- 38 -->
<path class="b" d="M945,935 L945,1080 L996,1080 L996,935 Z"/>
<path class="f" d="M940,30 Q940,-8 971,-8 Q1003,-8 1003,30 L1003,940 L940,940 Z"/>
<g id="h38"><ellipse class="b" cx="984" cy="65" rx="14" ry="26"/><ellipse cx="986" cy="68" rx="5" ry="12" fill="#fff"/></g>
<use href="#h38" transform="translate(-28 85)"/><use href="#h38" transform="translate(-24 215)"/><use href="#h38" transform="translate(-2 295)"/>
<!-- 39 -->
<path class="f" d="M920,1195 L945,1168 L995,1165 L1020,1185 L1020,1215 L995,1240 L945,1240 L920,1222 Z"/>
<path class="k" d="M920,1195 L947,1212 L996,1210 L1020,1185 M947,1212 L947,1240 M996,1210 L996,1240"/>
<ellipse class="k" cx="970" cy="1188" rx="25" ry="12"/>
<path class="l" d="M303,195 L303,470 M1005,450 L1215,450 M1015,1200 L1210,1200"/>
</g>

<!-- 17_can31.svg -->
<g transform="translate(340 2580) scale(0.332717)">
<path class="f" d="M400,650 L385,690 L310,745 L165,1050 L160,1130 L105,1200 L105,1440 Q108,1460 130,1468 L300,1545 Q320,1550 340,1543 L760,1420 Q780,1410 780,1390 L780,690 Q775,660 740,650 L690,640 L470,620 Z"/>
<path class="k" d="M770,680 L600,738 Q578,750 575,775 L560,830 L330,1240 Q302,1260 300,1290 L300,1545"/>
<path class="k" d="M778,705 L620,760 Q600,770 597,792 L583,848 L355,1255 Q326,1272 324,1300 L326,1545"/>
<path class="k" d="M738,735 L738,1368 L405,1482 Q385,1485 385,1462 L385,1310 Q388,1285 410,1272 L640,862 L650,790 Q655,770 675,760 Z"/>
<path class="k" d="M712,762 L712,1350 L420,1450 Q408,1452 408,1440 L408,1318 Q410,1300 428,1290 L662,875 L670,800 Q672,785 688,778 Z"/>
<path class="k" d="M310,745 L350,715 L420,690 M385,690 L540,700 M545,705 Q500,725 470,735 Q400,760 380,800 L245,1080 Q235,1110 240,1180 Q250,1215 285,1225 M540,725 Q470,745 430,775 Q410,790 395,820 L265,1090 Q258,1120 262,1170 Q268,1195 290,1200 L330,1185"/>
<path class="k" d="M490,820 Q522,830 515,872 L375,1140 Q345,1168 322,1142 Q310,1120 325,1090 L450,852 Q465,818 490,820 Z M518,760 L518,830"/>
<path class="k" d="M200,1030 L200,1500 M105,1200 L150,1160 L160,1130 M150,1160 L160,1165"/>
<!-- cap -->
<path class="f" d="M473,585 L478,645 A100,45 0 0 0 680,645 L683,585 Z"/>
<path class="t" d="M495,615 L497,668 M520,625 L522,680 M548,632 L549,688 M578,635 L578,690 M608,632 L607,688 M636,625 L634,680 M660,615 L658,668"/>
<ellipse class="f" cx="578" cy="585" rx="105" ry="52"/>
<ellipse class="k" cx="578" cy="583" rx="50" ry="25"/>
<path class="l" d="M578,365 L578,527"/>
</g>
<g transform="translate(640 2560) scale(0.418977)">
<!-- belt 30 -->
<g fill="none" stroke-linejoin="round">
<path d="M405,735 C300,720 150,640 125,520 C115,420 200,360 295,365 C380,375 415,480 410,600 C405,700 380,780 340,860 C290,980 290,1130 360,1240 C430,1340 560,1370 640,1290 C720,1200 720,1020 670,900 C620,800 520,745 405,735 Z" stroke="#161616" stroke-width="21" vector-effect="non-scaling-stroke"/>
<path d="M405,735 C300,720 150,640 125,520 C115,420 200,360 295,365 C380,375 415,480 410,600 C405,700 380,780 340,860 C290,980 290,1130 360,1240 C430,1340 560,1370 640,1290 C720,1200 720,1020 670,900 C620,800 520,745 405,735 Z" stroke="#fff" stroke-width="16.6" vector-effect="non-scaling-stroke"/>
<path d="M405,735 C300,720 150,640 125,520 C115,420 200,360 295,365 C380,375 415,480 410,600 C405,700 380,780 340,860 C290,980 290,1130 360,1240 C430,1340 560,1370 640,1290 C720,1200 720,1020 670,900 C620,800 520,745 405,735 Z" stroke="#161616" stroke-width="9.5" vector-effect="non-scaling-stroke"/>
<path d="M405,735 C300,720 150,640 125,520 C115,420 200,360 295,365 C380,375 415,480 410,600 C405,700 380,780 340,860 C290,980 290,1130 360,1240 C430,1340 560,1370 640,1290 C720,1200 720,1020 670,900 C620,800 520,745 405,735 Z" stroke="#fff" stroke-width="5.2" vector-effect="non-scaling-stroke"/>
</g>
<path class="l" d="M410,170 L410,465"/>
<!-- cloth 9 -->
<path class="f" d="M610,320 Q620,295 650,290 L1010,160 Q1070,145 1130,160 L1470,275 Q1490,285 1488,310 L1488,360 Q1480,375 1460,380 L1110,520 Q1080,530 1050,520 L640,360 Q610,345 610,320 Z"/>
<path class="k" d="M1488,318 Q1400,340 1160,450 M1488,342 Q1350,390 1120,492 M1470,372 Q1300,440 1090,515 M1068,293 Q1150,322 1248,313"/>
<path class="l" d="M1073,-24 L1073,150"/>
</g>

<!-- 18_bracket14.svg -->
<g transform="translate(1020 2820) scale(0.295749)">
<path class="l" d="M215,218 L1010,205 M215,218 L345,585"/>
<path class="f" d="M205,835 L625,730 Q640,720 632,690 L640,660 L795,395 Q815,372 850,367 L1385,270 Q1445,272 1455,335 Q1452,390 1405,402 L865,530 Q840,535 828,552 L690,770 L690,840 Q680,870 650,882 L235,985 L205,950 Z"/>
<path class="k" d="M235,868 L235,985 M205,835 L235,868 L645,762 Q665,755 672,735 L680,690 L828,445 Q838,428 860,422 L1400,298 M690,770 L672,735 M828,450 L835,518"/>
<g id="h14"><ellipse class="k" cx="310" cy="905" rx="28" ry="31" transform="rotate(20 310 905)"/><path class="k" d="M290,912 Q300,895 330,888"/></g>
<use href="#h14" transform="translate(217 -55)"/><use href="#h14" transform="translate(640 -453)"/><use href="#h14" transform="translate(862 -505)"/><use href="#h14" transform="translate(1090 -553)"/>
<g id="s15" transform="translate(1050 215) rotate(32)">
<path class="f" d="M15,-20 L95,-20 A9,20 0 0 1 95,20 L15,20 Z"/>
<path class="h" d="M32,-20 A9,20 0 0 1 32,20 M48,-20 A9,20 0 0 1 48,20 M64,-20 A9,20 0 0 1 64,20 M80,-20 A9,20 0 0 1 80,20"/>
<ellipse class="f" cx="95" cy="0" rx="9" ry="19"/>
<path class="f" d="M-22,-40 L12,-40 A18,40 0 0 1 12,40 L-22,40 A18,40 0 0 1 -22,-40 Z"/>
<path class="h" d="M2,-40 A18,40 0 0 1 2,40 M12,-40 A18,40 0 0 1 12,40"/>
</g>
<use href="#s15" transform="translate(-700 435)"/>
<path class="l" d="M690,842 L965,842"/>
</g>

<!-- 19_reg40.svg -->
<path class="d" style="stroke-dasharray:16.5 7.5" d="M2011.5,2625 H2194.5 V3087 H1817.5 V2744 Z"/>
<g transform="translate(1640 2600) scale(0.369686)">
<path class="t" d="M462,145 L580,205 M598,55 L830,180"/>
<path class="c" d="M462,145 L462,275 M598,55 L598,190 M610,235 L845,358 M580,205 L612,222"/>
<!-- wood screws 41 -->
<g id="ws"><path class="b" d="M458,270 L466,270 L472,338 L452,338 Z"/><ellipse class="f" cx="461" cy="350" rx="17" ry="9"/></g>
<use href="#ws" transform="translate(137 -88)"/>
<!-- bracket -->
<path class="f" d="M808,240 L985,135 Q1015,120 1045,135 L1065,150 Q1078,160 1075,180 L1075,520 L858,645 L858,290 L815,262 Z"/>
<path class="k" d="M1075,180 L858,290 M848,285 L848,640"/>
<circle class="b" cx="858" cy="237" r="5"/><circle class="b" cx="997" cy="157" r="5"/>
</g>
<g transform="translate(1900 2700) scale(0.184843)">
<!-- manifold -->
<path class="f" d="M325,365 L665,140 L700,150 L775,265 L775,600 L425,790 L390,800 L325,730 Z"/>
<path class="k" d="M325,365 L425,475 L425,790 M425,475 L610,380 L775,265 M352,348 L688,165 M610,380 L610,690"/>
<ellipse class="k" cx="368" cy="580" rx="28" ry="48"/>
<ellipse class="k" cx="465" cy="545" rx="12" ry="17"/><ellipse class="h" cx="462" cy="672" rx="13" ry="19"/>
<!-- silencers -->
<g id="sil2" transform="translate(190 545) rotate(-30)">
<path class="f" d="M0,-45 L200,-47 A22,47 0 0 1 200,47 L0,45 A22,45 0 0 1 0,-45 Z"/>
<path class="b" d="M45,-45 L172,-46 A22,46 0 0 1 172,46 L45,45 A22,45 0 0 0 45,-45 Z"/>
<path class="k" d="M0,-45 A22,45 0 0 1 0,45 M185,-47 A22,47 0 0 1 185,47"/>
</g>
<use href="#sil2" transform="translate(0 295)"/>
<!-- valve body -->
<path class="f" d="M595,395 L680,340 L835,420 L835,990 L745,1040 L600,960 Z"/>
<path class="k" d="M595,395 L745,470 L835,420 M745,470 L745,1040 M600,690 L745,760 L835,720 M600,760 L745,830"/>
<path class="b" d="M622,325 L660,318 L672,345 L640,358 Z M770,340 L808,345 L815,375 L785,372 Z M722,680 L745,690 L745,725 L722,715 Z"/>
<circle class="h" cx="800" cy="800" r="17"/>
<!-- coil connector -->
<path class="f" d="M760,920 L840,890 L905,960 L905,1040 L830,1075 L765,1000 Z"/>
<path class="k" d="M760,920 L828,990 L905,960 M828,990 L830,1075"/>
<circle class="k" cx="888" cy="1003" r="13"/>
<!-- filter regulator bowl -->
<path class="f" d="M868,600 L868,780 Q880,870 975,880 Q1070,870 1082,780 L1082,600 Z"/>
<path class="k" d="M905,640 L905,700 Q930,715 950,700 L950,645 M985,645 L985,700 Q1010,715 1040,700 L1040,640 M890,760 Q975,800 1065,760"/>
<circle class="h" cx="962" cy="850" r="20"/>
<path class="b" d="M950,895 L980,895 L972,965 L958,965 Z"/>
<!-- gauge neck + right fitting -->
<path class="f" d="M1040,440 L1150,395 L1210,420 L1230,560 L1080,600 Z"/>
<path class="f" d="M1110,330 Q1110,270 1170,240 L1215,215 Q1290,190 1340,230 L1440,180 L1445,165 L1520,180 L1525,245 L1470,260 L1400,330 L1370,440 Q1330,480 1270,470 Q1180,450 1110,330 Z"/>
<path class="k" d="M1215,215 Q1290,250 1300,340 Q1300,420 1270,470 M1340,230 Q1390,270 1385,340 M1170,240 Q1200,300 1195,360"/>
<path class="b" d="M1395,225 L1440,195 L1462,250 L1410,310 Z M1448,165 L1520,182 L1524,243 L1470,258 Z"/>
<!-- gauge -->
<ellipse class="f" cx="1215" cy="565" rx="118" ry="150" transform="rotate(18 1215 565)"/>
<ellipse class="f" cx="1235" cy="558" rx="112" ry="148" transform="rotate(18 1235 558)"/>
<ellipse class="h" cx="1240" cy="558" rx="88" ry="120" transform="rotate(18 1240 558)"/>
<path class="h" d="M1225,520 L1200,625"/>
<!-- regulator body -->
<path class="f" d="M838,300 L838,590 A126,40 0 0 0 1092,590 L1092,300 Z"/>
<path class="f" d="M825,250 L825,340 A140,48 0 0 0 1105,340 L1105,250 Z"/>
<path class="k" d="M825,285 A140,48 0 0 0 1105,285"/>
<path class="b" d="M880,330 L905,337 L905,360 L880,352 Z M945,345 L972,347 L972,370 L945,368 Z M1010,343 L1036,337 L1036,360 L1010,366 Z M1065,325 L1085,315 L1085,338 L1065,348 Z"/>
<ellipse class="f" cx="965" cy="250" rx="140" ry="48"/>
<!-- push fittings -->
<g id="pf"><ellipse class="f" cx="860" cy="490" rx="30" ry="34"/><ellipse class="h" cx="862" cy="490" rx="17" ry="20"/></g>
<use href="#pf" transform="translate(-25 70)"/><use href="#pf" transform="translate(-70 150)"/><use href="#pf" transform="translate(-28 165)"/>
<path class="b" d="M905,455 L935,445 L935,540 L905,550 Z"/>
<!-- knob -->
<path class="b" d="M868,150 L868,265 A97,32 0 0 0 1062,265 L1062,150 Z"/>
<path d="M905,188 L905,277 M935,186 L935,281 M965,185 L965,285 M995,186 L995,281 M1025,188 L1025,277" stroke="#fff" stroke-width="1.6" vector-effect="non-scaling-stroke" fill="none"/>
<path class="f" d="M865,110 L865,165 A100,40 0 0 0 1065,165 L1065,110 Z"/>
<ellipse class="f" cx="965" cy="110" rx="100" ry="50"/>
</g>
<g transform="translate(1640 2600) scale(0.369686)">
<!-- connector -->
<path class="f" d="M655,880 L705,855 L750,930 L745,960 L700,982 L690,960 Z"/>
<path class="k" d="M665,890 L700,870 M680,905 Q700,900 712,885"/>
<path class="f" d="M590,825 L655,785 L700,835 L722,870 L660,905 L640,880 Z"/>
<path class="b" d="M595,828 L652,793 L690,838 L632,872 Z"/>
<path d="M607,842 L664,808 M618,856 L676,822 M612,820 L648,865 M630,810 L666,852" stroke="#fff" stroke-width="1.2" vector-effect="non-scaling-stroke" fill="none"/>
<path class="f" d="M1092,795 L1165,795 L1165,820 L1092,820 Z"/><path class="b" d="M1100,820 L1158,820 L1152,852 L1106,852 Z"/><path class="t" d="M1115,795 L1115,820 M1142,795 L1142,820"/>
<!-- cable -->
<g fill="none">
<path d="M1128,850 C1120,900 1100,950 1060,1000 C1010,1050 990,1120 1010,1180 C1040,1250 1150,1270 1210,1210 C1260,1150 1240,1070 1170,1040 C1100,1015 900,1040 820,1020 C770,1005 740,985 722,965" stroke="#161616" stroke-width="9.5" vector-effect="non-scaling-stroke"/>
<path d="M1128,850 C1120,900 1100,950 1060,1000 C1010,1050 990,1120 1010,1180 C1040,1250 1150,1270 1210,1210 C1260,1150 1240,1070 1170,1040 C1100,1015 900,1040 820,1020 C770,1005 740,985 722,965" stroke="#fff" stroke-width="5.5" vector-effect="non-scaling-stroke"/>
</g>
<path class="l" d="M350,320 L450,320 M150,948 L475,948"/>
</g>

<!-- 90_labels.svg -->
<g>
<text class="n" x="1145.4" y="526.2">1</text>
<text class="n" x="1308.9" y="492.1">2</text>
<text class="n" x="1578.0" y="878.0">3</text>
<text class="n" x="1684.9" y="473.5">4</text>
<text class="n" x="2125.0" y="686.5">5</text>
<text class="n" x="2065.8" y="1096.7">6</text>
<text class="n" x="1753.1" y="1666.1">7</text>
<text class="n" x="2141.3" y="1538.8">8</text>
<text class="n" x="1493.9" y="1398.2">8</text>
<text class="n" x="1079.4" y="2545.3">9</text>
<text class="n" x="1343.5 1369.7" y="983.1">36</text>
<text class="n" x="1146.3 1170.0" y="1087.9">37</text>
<text class="n" x="1063.8 1088.1" y="1230.8">34</text>
<text class="n" x="1341.0 1366.0" y="1367.6">33</text>
<text class="n" x="1354.5 1379.5" y="1466.6">35</text>
<text class="n" x="1364.4 1389.4" y="1726.6">32</text>
<text class="n" x="840.7 863.2" y="1408.8">11</text>
<text class="n" x="419.4 441.9" y="1503.3">10</text>
<text class="n" x="466.3 490.1" y="1643.0">12</text>
<text class="n" x="388.6 413.7" y="1897.9">13</text>
<text class="n" x="1046.0 1070.8" y="1688.3">17</text>
<text class="n" x="1048.0 1073.7" y="1754.3">18</text>
<text class="n" x="1053.8 1077.0" y="2189.7">19</text>
<text class="n" x="1233.6 1258.2" y="2005.3">20</text>
<text class="n" x="1199.1 1221.6" y="2312.3">21</text>
<text class="n" x="1606.5 1631.4" y="1983.5">22</text>
<text class="n" x="1606.5 1631.4" y="2078.2">23</text>
<text class="n" x="1606.5 1630.8" y="2120.6">24</text>
<text class="n" x="1825.1 1848.8" y="2022.3">25</text>
<text class="n" x="1354.4 1380.4" y="2276.9">26</text>
<text class="n" x="1628.8 1654.7" y="2366.2">38</text>
<text class="n" x="1619.8 1645.6" y="2559.0">39</text>
<text class="n" x="510.1 533.9" y="2685.1">31</text>
<text class="n" x="794.6 818.4" y="2623.3">30</text>
<text class="n" x="1033.3 1058.4" y="2892.8">15</text>
<text class="n" x="1309.8 1336.0" y="3083.5">14</text>
<text class="n" x="1720.5 1744.6" y="2733.3">41</text>
<text class="n" x="1641.0 1667.4" y="2964.3">40</text>
<text class="n" x="445.0 471.2" y="2133.9">16</text>
<text class="n" x="474.5 499.4" y="2319.7">29</text>
<text class="n" x="748.1 773.0" y="2317.3">28</text>
<text class="n" x="1012.8 1037.7" y="2322.2">27</text>
</g>

</svg>
</body></html>
